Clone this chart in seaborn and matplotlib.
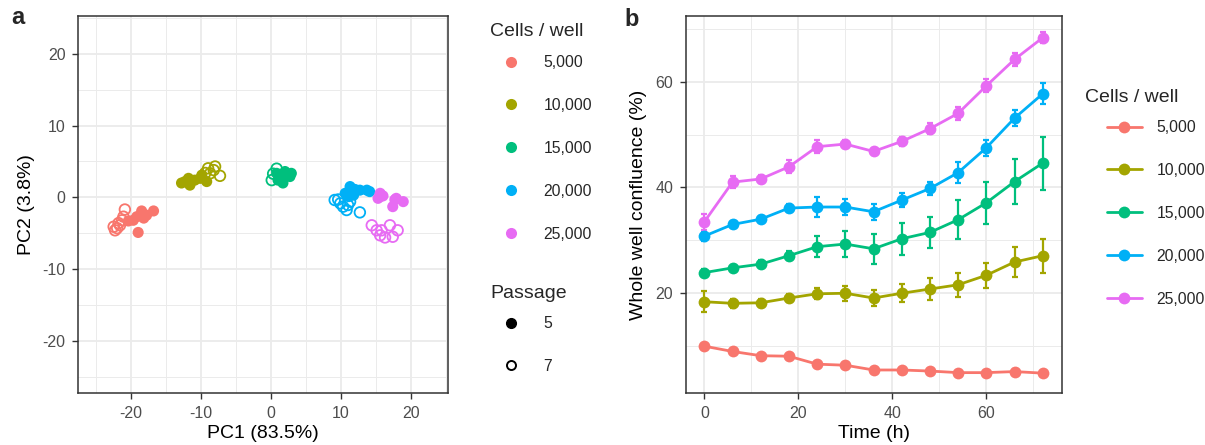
import numpy as np
import pandas as pd
import matplotlib
matplotlib.use("Agg")
import matplotlib.pyplot as plt
import seaborn as sns
from matplotlib.lines import Line2D
from matplotlib.ticker import MultipleLocator

# ---------------- data ----------------
cell_levels = ["5,000", "10,000", "15,000", "20,000", "25,000"]
cell_colors = ["#F8766D", "#A3A500", "#00BF7D", "#00B0F6", "#E76BF3"]
passage_levels = ["5", "7"]

# Panel a: PCA scores, per cell density, passage 5 (filled) and 7 (open)
pc1_p5 = [
    [-19.0, -16.8, -18.5, -18.2, -19.7, -20.4, -19.2, -17.8],
    [-12.8, -11.8, -11.6, -12.3, -10.1, -9.2, -9.9, -10.9],
    [0.8, 1.7, 2.7, 1.5, 2.2, 1.0, 2.0, 2.9],
    [11.3, 10.6, 11.8, 12.7, 13.7, 14.1, 11.1, 12.0],
    [15.6, 15.6, 17.9, 18.9, 17.4, 17.7, 15.3, 16.0],
]
pc2_p5 = [
    [-4.9, -1.9, -1.9, -2.9, -3.2, -3.3, -2.7, -2.5],
    [2.0, 2.65, 1.7, 2.2, 2.65, 2.2, 3.1, 2.4],
    [3.35, 2.0, 2.9, 2.65, 3.1, 2.4, 3.6, 3.35],
    [1.5, 0.56, 0.3, 1.0, 1.0, 0.8, 0.1, 1.1],
    [0.1, 0.56, -0.14, -0.6, -1.3, -0.33, -0.14, 0.2],
]
pc1_p7 = [
    [-20.9, -22.0, -22.5, -21.8, -21.3, -22.3, -21.6, -21.1],
    [-9.0, -8.0, -7.3, -8.7, -8.2, -9.4],
    [0.1, 0.8, 0.3],
    [9.1, 9.9, 10.8, 12.7, 10.3, 11.3, 9.6, 11.0],
    [14.4, 15.1, 15.6, 16.3, 17.0, 17.4, 18.1, 15.8],
]
pc2_p7 = [
    [-1.7, -4.3, -4.1, -3.6, -3.2, -4.6, -3.9, -2.7],
    [4.05, 4.3, 3.0, 3.35, 3.8, 3.4],
    [2.4, 4.0, 3.3],
    [-0.37, -0.84, -1.77, -2.1, -1.3, -0.6, -0.3, -1.07],
    [-3.9, -4.6, -5.3, -5.6, -3.9, -5.5, -4.6, -4.6],
]

# Panel b: whole well confluence (%) over time, mean and error
time_h = [0, 6, 12, 18, 24, 30, 36, 42, 48, 54, 60, 66, 72]
conf_5000 = [10.0, 9.0, 8.2, 8.1, 6.6, 6.4, 5.5, 5.5, 5.3, 5.0, 5.0, 5.2, 4.9]
conf_10000 = [18.4, 18.1, 18.2, 19.1, 19.9, 20.0, 19.1, 20.0, 20.8, 21.6, 23.4, 25.9, 27.1]
conf_15000 = [23.9, 24.8, 25.5, 27.1, 28.8, 29.3, 28.4, 30.3, 31.5, 33.9, 37.1, 41.1, 44.6]
conf_20000 = [30.8, 33.0, 34.0, 36.1, 36.3, 36.3, 35.4, 37.6, 39.8, 42.8, 47.5, 53.1, 57.7]
conf_25000 = [33.5, 41.0, 41.6, 43.9, 47.7, 48.2, 46.8, 48.7, 51.1, 54.0, 59.2, 64.2, 68.3]
err_5000 = [0.4] * 13
err_10000 = [2.0, 0.8, 0.8, 0.8, 1.0, 1.4, 1.5, 1.7, 2.0, 2.3, 2.4, 2.8, 3.2]
err_15000 = [0.7, 0.6, 0.7, 0.8, 2.0, 2.5, 2.8, 3.0, 3.0, 3.7, 4.0, 4.2, 5.0]
err_20000 = [1.0, 0.7, 0.6, 0.7, 1.8, 1.5, 1.5, 1.3, 1.3, 2.0, 1.5, 1.5, 2.0]
err_25000 = [1.5, 1.2, 0.8, 1.2, 1.2, 0.8, 0.7, 0.8, 1.0, 1.2, 1.2, 1.3, 1.0]

conf_means = [conf_5000, conf_10000, conf_15000, conf_20000, conf_25000]
conf_errs = [err_5000, err_10000, err_15000, err_20000, err_25000]

# ---------------- style ----------------
sns.set_theme(style="white")
plt.rcParams["font.family"] = ["Liberation Sans", "DejaVu Sans"]
plt.rcParams["axes.unicode_minus"] = False

W, H = 1205, 445
fig = plt.figure(figsize=(W / 100, H / 100), dpi=100)
pal = dict(zip(cell_levels, cell_colors))

GRID = "#EBEBEB"
BORDER = "#333333"
TICKC = "#4D4D4D"
TICK_FS = 11.5
LEG_FS = 11.3
TITLE_FS = 14
LSPACE = 1.78


def style_axes(ax):
    for s in ax.spines.values():
        s.set_visible(True)
        s.set_color(BORDER)
        s.set_linewidth(1.1)
    ax.grid(True, which="major", color=GRID, linewidth=1.3)
    ax.grid(True, which="minor", color=GRID, linewidth=0.7)
    ax.set_axisbelow(True)
    ax.tick_params(which="major", direction="out", length=4, width=1.0,
                   color=BORDER, labelsize=TICK_FS, labelcolor=TICKC,
                   bottom=True, left=True, pad=5)
    ax.tick_params(which="minor", length=0)


def fx(px):
    return px / W


def fy(py):
    return 1 - py / H


# ---------------- panel a ----------------
axa = fig.add_axes([fx(78), fy(393), fx(448) - fx(78), fy(16) - fy(393)])

rows5, rows7 = [], []
for lvl, xs, ys in zip(cell_levels, pc1_p5, pc2_p5):
    for x, y in zip(xs, ys):
        rows5.append({"PC1": x, "PC2": y, "Cells / well": lvl, "Passage": "5"})
for lvl, xs, ys in zip(cell_levels, pc1_p7, pc2_p7):
    for x, y in zip(xs, ys):
        rows7.append({"PC1": x, "PC2": y, "Cells / well": lvl, "Passage": "7"})
df5 = pd.DataFrame(rows5)
df7 = pd.DataFrame(rows7)

sns.scatterplot(data=df7, x="PC1", y="PC2", hue="Cells / well",
                hue_order=cell_levels, palette=pal, s=58, ax=axa, legend=False)
coll7 = axa.collections[-1]
fc = coll7.get_facecolors()
coll7.set_edgecolors(fc)
coll7.set_facecolors("none")
coll7.set_linewidths(1.3)

sns.scatterplot(data=df5, x="PC1", y="PC2", hue="Cells / well",
                hue_order=cell_levels, palette=pal, s=64, linewidth=0,
                ax=axa, legend=False)

axa.set_xlim(-27.6, 25.3)
axa.set_ylim(-27.3, 25.3)
axa.xaxis.set_major_locator(MultipleLocator(10))
axa.yaxis.set_major_locator(MultipleLocator(10))
axa.xaxis.set_minor_locator(MultipleLocator(5))
axa.yaxis.set_minor_locator(MultipleLocator(5))
style_axes(axa)
axa.set_xlabel("PC1 (83.5%)", fontsize=TITLE_FS, color="black", labelpad=3)
axa.set_ylabel("PC2 (3.8%)", fontsize=TITLE_FS, color="black", labelpad=5)

# legends for panel a (titles drawn as text to control spacing)
fig.text(fx(490), fy(32), "Cells / well", fontsize=TITLE_FS, ha="left", va="center")
hue_handles = [Line2D([], [], linestyle="none", marker="o", markersize=8,
                      markerfacecolor=c, markeredgewidth=0) for c in cell_colors]
leg1 = axa.legend(hue_handles, cell_levels,
                  loc="upper left", bbox_to_anchor=(fx(490), fy(55)),
                  bbox_transform=fig.transFigure, frameon=False,
                  fontsize=LEG_FS, handlelength=2.7, handletextpad=0.7,
                  labelspacing=LSPACE, borderpad=0, borderaxespad=0)
axa.add_artist(leg1)

fig.text(fx(490), fy(293), "Passage", fontsize=TITLE_FS, ha="left", va="center")
pass_handles = [
    Line2D([], [], linestyle="none", marker="o", markersize=7,
           markerfacecolor="black", markeredgecolor="black"),
    Line2D([], [], linestyle="none", marker="o", markersize=6.5,
           markerfacecolor="none", markeredgecolor="black", markeredgewidth=1.4),
]
leg2 = axa.legend(pass_handles, passage_levels,
                  loc="upper left", bbox_to_anchor=(fx(490), fy(316)),
                  bbox_transform=fig.transFigure, frameon=False,
                  fontsize=LEG_FS, handlelength=2.7, handletextpad=0.7,
                  labelspacing=LSPACE, borderpad=0, borderaxespad=0)

# ---------------- panel b ----------------
axb = fig.add_axes([fx(685.7), fy(393), fx(1062) - fx(685.7), fy(16) - fy(393)])

rowsb = []
for lvl, m in zip(cell_levels, conf_means):
    for t, v in zip(time_h, m):
        rowsb.append({"Time (h)": t, "Confluence": v, "Cells / well": lvl})
dfb = pd.DataFrame(rowsb)

for lvl, m, e, c in zip(cell_levels, conf_means, conf_errs, cell_colors):
    axb.errorbar(time_h, m, yerr=e, fmt="none", ecolor=c, elinewidth=1.6,
                 capsize=2.2, capthick=1.6, zorder=2)

sns.lineplot(data=dfb, x="Time (h)", y="Confluence", hue="Cells / well",
             hue_order=cell_levels, palette=pal, marker="o", markersize=8.5,
             markeredgewidth=0, linewidth=2.0, errorbar=None, ax=axb,
             legend=True, zorder=3)

axb.set_xlim(-3.96, 76.1)
axb.set_ylim(1.15, 72.4)
axb.xaxis.set_major_locator(MultipleLocator(20))
axb.yaxis.set_major_locator(MultipleLocator(20))
axb.xaxis.set_minor_locator(MultipleLocator(10))
axb.yaxis.set_minor_locator(MultipleLocator(10))
style_axes(axb)
axb.set_xlabel("Time (h)", fontsize=TITLE_FS, color="black", labelpad=3)
axb.set_ylabel("Whole well confluence (%)", fontsize=TITLE_FS, color="black", labelpad=6)

hb, lb = axb.get_legend_handles_labels()
axb.get_legend().remove()
fig.text(fx(1085), fy(98), "Cells / well", fontsize=TITLE_FS, ha="left", va="center")
axb.legend(hb, lb, loc="upper left", bbox_to_anchor=(fx(1107), fy(120)),
           bbox_transform=fig.transFigure, frameon=False, fontsize=LEG_FS,
           handlelength=2.2, handletextpad=0.95, labelspacing=LSPACE,
           borderpad=0, borderaxespad=0)

# panel labels
fig.text(fx(11), fy(18), "a", fontsize=17, fontweight="bold", ha="left", va="center")
fig.text(fx(624), fy(20), "b", fontsize=17, fontweight="bold", ha="left", va="center")

fig.savefig("out.png", dpi=100, facecolor="white")
